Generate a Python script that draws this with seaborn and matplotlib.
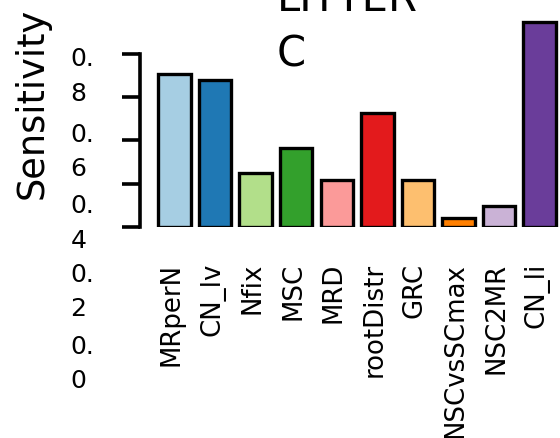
import matplotlib
matplotlib.use("Agg")
import matplotlib.pyplot as plt
import matplotlib.transforms as mtransforms
import seaborn as sns
import pandas as pd

# ---- data ----
params = ["MRperN", "CN_lv", "Nfix", "MSC", "MRD", "rootDistr", "GRC",
          "NSCvsSCmax", "NSC2MR", "CN_li"]
sensitivity = [0.705, 0.679, 0.249, 0.366, 0.217, 0.525, 0.216, 0.040, 0.098, 0.948]
ytick_values = [0.0, 0.2, 0.4, 0.6, 0.8]
ytick_labels = ["0.\n0", "0.\n2", "0.\n4", "0.\n6", "0.\n8"]
title_text = "LITTER\nC"
ylabel_text = "Sensitivity"

sns.set_style("ticks")
plt.rcParams["font.family"] = ["DejaVu Sans"]
plt.rcParams.update({
    "text.color": "black", "axes.labelcolor": "black", "axes.edgecolor": "black",
    "xtick.color": "black", "ytick.color": "black",
    "xtick.labelcolor": "black", "ytick.labelcolor": "black",
})

DPI = 100
fig = plt.figure(figsize=(5.6, 4.39), dpi=DPI)
ax = fig.add_axes([0.25, 0.4806, 0.75, 0.4932])

df = pd.DataFrame({"param": params, "value": sensitivity})
sns.barplot(data=df, x="param", y="value", hue="param", palette="Paired",
            saturation=1, edgecolor="black", linewidth=2.4, width=0.8,
            legend=False, ax=ax)

ax.set_xlim(-0.85, 9.5)
ax.set_ylim(0, 1.0)
for s in ("top", "right", "bottom"):
    ax.spines[s].set_visible(False)
ax.spines["left"].set_linewidth(2.6)
ax.spines["left"].set_color("black")
ax.spines["left"].set_bounds(0, 0.8)

ax.tick_params(axis="y", length=13, width=2.6, pad=20, direction="out",
               color="black", labelcolor="black")
ax.tick_params(axis="x", length=0, pad=25, labelcolor="black")

ax.set_yticks(ytick_values)
ax.set_yticklabels(ytick_labels, fontsize=18, va="top", ha="right",
                   multialignment="left", linespacing=1.55, color="black")
ax.set_xticks(range(len(params)))
ax.set_xticklabels(params, rotation=90, fontsize=18.7, color="black")

ax.set_xlabel("")
ax.set_ylabel(ylabel_text, fontsize=26.5, color="black")
ax.yaxis.set_label_coords(-0.2126, 0.575)
ax.set_title(title_text, fontsize=30, linespacing=1.42, multialignment="left",
             x=0.494, y=0.746, pad=0, color="black")

# stacked (non-overlapping) y tick labels, as in the reference
label_drop_px = [106.5, 77.9, 52.9, 24.5, -7.4]
for tick, drop in zip(ax.yaxis.get_major_ticks(), label_drop_px):
    tick.label1.set_transform(tick.label1.get_transform() +
                              mtransforms.ScaledTranslation(0, -drop / DPI, fig.dpi_scale_trans))
for tick in ax.xaxis.get_major_ticks():
    tick.label1.set_transform(tick.label1.get_transform() +
                              mtransforms.ScaledTranslation(-3 / DPI, 0, fig.dpi_scale_trans))

fig.savefig("out.png", dpi=DPI)
